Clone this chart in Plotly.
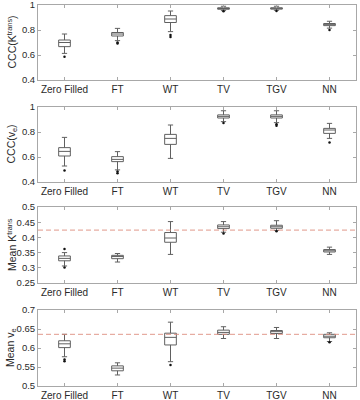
import plotly.graph_objects as go

categories = ["Zero Filled", "FT", "WT", "TV", "TGV", "NN"]

# Panel 1: CCC(Ktrans)
p1_upper = [0.768, 0.813, 0.952, 0.990, 0.990, 0.870]
p1_q3 = [0.720, 0.780, 0.915, 0.978, 0.978, 0.852]
p1_median = [0.700, 0.768, 0.888, 0.972, 0.973, 0.843]
p1_q1 = [0.667, 0.752, 0.860, 0.966, 0.967, 0.835]
p1_lower = [0.613, 0.715, 0.787, 0.955, 0.958, 0.815]
p1_out_x = ["Zero Filled", "FT", "FT", "WT", "WT", "TV", "TGV", "NN"]
p1_out_y = [0.587, 0.700, 0.693, 0.760, 0.745, 0.950, 0.952, 0.800]

# Panel 2: CCC(ve)
p2_upper = [0.757, 0.643, 0.856, 0.970, 0.970, 0.869]
p2_q3 = [0.675, 0.603, 0.781, 0.937, 0.937, 0.829]
p2_median = [0.645, 0.581, 0.749, 0.925, 0.925, 0.816]
p2_q1 = [0.608, 0.563, 0.701, 0.912, 0.912, 0.789]
p2_lower = [0.528, 0.497, 0.589, 0.883, 0.875, 0.749]
p2_out_x = ["Zero Filled", "FT", "FT", "TV", "TGV", "TGV", "NN"]
p2_out_y = [0.493, 0.485, 0.470, 0.872, 0.862, 0.850, 0.717]

# Panel 3: Mean Ktrans
p3_upper = [0.350, 0.347, 0.452, 0.452, 0.455, 0.368]
p3_q3 = [0.339, 0.341, 0.416, 0.441, 0.440, 0.360]
p3_median = [0.331, 0.337, 0.398, 0.435, 0.435, 0.356]
p3_q1 = [0.323, 0.330, 0.384, 0.429, 0.430, 0.352]
p3_lower = [0.306, 0.319, 0.344, 0.417, 0.423, 0.344]
p3_out_x = ["Zero Filled", "Zero Filled", "TV", "TGV"]
p3_out_y = [0.362, 0.301, 0.413, 0.420]
p3_ref = 0.424

# Panel 4: Mean ve
p4_upper = [0.636, 0.561, 0.668, 0.656, 0.654, 0.640]
p4_q3 = [0.619, 0.553, 0.639, 0.647, 0.646, 0.636]
p4_median = [0.611, 0.547, 0.628, 0.641, 0.643, 0.631]
p4_q1 = [0.601, 0.540, 0.608, 0.636, 0.638, 0.627]
p4_lower = [0.577, 0.529, 0.564, 0.625, 0.625, 0.617]
p4_out_x = ["Zero Filled", "Zero Filled", "WT", "NN"]
p4_out_y = [0.570, 0.565, 0.555, 0.615]
p4_ref = 0.636

panels = [
    (p1_q1, p1_median, p1_q3, p1_lower, p1_upper, p1_out_x, p1_out_y, None,
     [0.4, 0.6, 0.8, 1.0], ["0.4", "0.6", "0.8", "1"], [0.4, 1.0], "CCC(K<sup>trans</sup>)"),
    (p2_q1, p2_median, p2_q3, p2_lower, p2_upper, p2_out_x, p2_out_y, None,
     [0.4, 0.6, 0.8, 1.0], ["0.4", "0.6", "0.8", "1"], [0.4, 1.0], "CCC(v<sub>e</sub>)"),
    (p3_q1, p3_median, p3_q3, p3_lower, p3_upper, p3_out_x, p3_out_y, p3_ref,
     [0.25, 0.3, 0.35, 0.4, 0.45, 0.5], ["0.25", "0.3", "0.35", "0.4", "0.45", "0.5"], [0.25, 0.5], "Mean K<sup>trans</sup>"),
    (p4_q1, p4_median, p4_q3, p4_lower, p4_upper, p4_out_x, p4_out_y, p4_ref,
     [0.5, 0.55, 0.6, 0.65, 0.7], ["0.5", "0.55", "0.6", "0.65", "0.7"], [0.5, 0.7], "Mean v<sub>e</sub>"),
]

W, H = 360, 400
px_top = [5, 107, 207, 310]
px_bot = [80, 182, 283, 386]
x0, x1 = 38, 356

fig = go.Figure()
axis_color = "#a8a8a8"
text_color = "#2a2a2a"
xfont = dict(family="Liberation Sans, Arial, sans-serif", size=10, color=text_color)
yfont = dict(family="Liberation Sans, Arial, sans-serif", size=9.5, color=text_color)

for i, (q1, med, q3, lo, hi, ox, oy, ref, tv, tt, yr, title) in enumerate(panels):
    n = i + 1
    xa = "x" if n == 1 else f"x{n}"
    ya = "y" if n == 1 else f"y{n}"
    fig.add_trace(go.Box(
        x=categories, q1=q1, median=med, q3=q3, lowerfence=lo, upperfence=hi,
        xaxis=xa, yaxis=ya, width=0.22, whiskerwidth=0.45,
        fillcolor="rgba(255,255,255,0)", line=dict(color="#606060", width=1),
        boxpoints=False, showlegend=False, hoverinfo="skip",
    ))
    fig.add_trace(go.Scatter(
        x=ox, y=oy, mode="markers", xaxis=xa, yaxis=ya,
        marker=dict(color="#111111", size=2.5), showlegend=False, hoverinfo="skip",
    ))
    if ref is not None:
        fig.add_shape(type="line", xref=f"{xa} domain", yref=ya, x0=0, x1=1, y0=ref, y1=ref,
                      line=dict(color="#dc8d7e", width=0.9, dash="5px,3px"))
    dom_y = [1 - px_bot[i] / H, 1 - px_top[i] / H]
    fig.layout[f"xaxis{'' if n == 1 else n}"] = dict(
        domain=[x0 / W, x1 / W], anchor=ya, type="category",
        categoryorder="array", categoryarray=categories, range=[-0.5, 5.5],
        showline=True, linecolor=axis_color, linewidth=1, mirror="ticks",
        ticks="inside", ticklen=3, tickcolor=axis_color, showgrid=False,
        zeroline=False, tickfont=xfont, fixedrange=True, automargin=False,
        ticklabeloverflow="allow",
    )
    fig.layout[f"yaxis{'' if n == 1 else n}"] = dict(
        domain=dom_y, anchor=xa, range=yr, tickvals=tv, ticktext=tt,
        showline=True, linecolor=axis_color, linewidth=1, mirror="ticks",
        ticks="inside", ticklen=3, tickcolor=axis_color, showgrid=False,
        zeroline=False, tickfont=yfont, fixedrange=True, automargin=False,
        ticklabeloverflow="allow",
    )
    fig.add_annotation(
        text=title, xref="paper", yref="paper", x=11 / W,
        y=sum(dom_y) / 2, textangle=-90, showarrow=False,
        xanchor="center", yanchor="middle",
        font=dict(family="Liberation Sans, Arial, sans-serif", size=10.5, color=text_color),
    )

fig.update_layout(
    width=W, height=H, margin=dict(l=0, r=0, t=0, b=0),
    paper_bgcolor="white", plot_bgcolor="white",
    boxgap=0, boxgroupgap=0,
)

fig.write_html(
    "out.html",
    config={"displayModeBar": False, "staticPlot": True},
    post_script="document.body.style.margin='0';document.body.style.padding='0';",
)
